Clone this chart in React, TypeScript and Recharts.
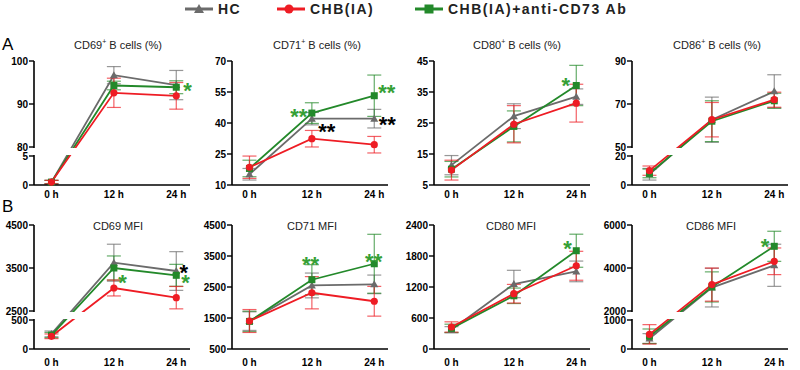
import React from "react";
import {
  ErrorBar,
  Line,
  LineChart,
  ReferenceArea,
  ReferenceDot,
  XAxis,
  YAxis,
} from "recharts";

const FONT = '"Liberation Sans", Arial, Helvetica, sans-serif';
const GRAY = "#6b6b6b";
const RED = "#ee1c24";
const GREEN = "#23892a";
const STAR_GREEN = "#35a035";

const timeLabels = ["0 h", "12 h", "24 h"];

// A: % positive B cells
const cd69PctTicks = [0, 5, 80, 90, 100];
const cd69PctHC = [0.5, 96.7, 94.4];
const cd69PctHCErr = [0.3, 2.0, 3.4];
const cd69PctCHB = [0.5, 92.6, 91.9];
const cd69PctCHBErr = [0.3, 3.4, 3.1];
const cd69PctAb = [0.5, 94.3, 93.9];
const cd69PctAbErr = [0.3, 1.0, 1.5];

const cd71PctTicks = [10, 25, 40, 55, 70];
const cd71PctHC = [15.2, 42.1, 42.1];
const cd71PctHCErr = [2.8, 3.0, 4.5];
const cd71PctCHB = [18.6, 32.4, 29.5];
const cd71PctCHBErr = [5.4, 4.0, 4.0];
const cd71PctAb = [18.0, 44.8, 53.2];
const cd71PctAbErr = [4.0, 5.0, 10.0];

const cd80PctTicks = [5, 15, 25, 35, 45];
const cd80PctHC = [11.4, 27.2, 33.5];
const cd80PctHCErr = [3.1, 4.0, 2.5];
const cd80PctCHB = [9.8, 24.6, 31.4];
const cd80PctCHBErr = [3.2, 6.0, 6.1];
const cd80PctAb = [10.1, 23.9, 37.1];
const cd80PctAbErr = [2.5, 5.0, 6.5];

const cd86PctTicks = [0, 20, 50, 70, 90];
const cd86PctHC = [7.4, 62.7, 75.9];
const cd86PctHCErr = [4.0, 10.5, 7.7];
const cd86PctCHB = [9.9, 62.7, 72.0];
const cd86PctCHBErr = [3.2, 8.0, 3.5];
const cd86PctAb = [8.0, 62.0, 71.5];
const cd86PctAbErr = [3.0, 9.5, 3.5];

// B: MFI
const cd69MfiTicks = [0, 500, 2500, 3500, 4500];
const cd69MfiHC = [260, 3623, 3430];
const cd69MfiHCErr = [50, 430, 450];
const cd69MfiCHB = [219, 3035, 2810];
const cd69MfiCHBErr = [40, 185, 260];
const cd69MfiAb = [240, 3500, 3330];
const cd69MfiAbErr = [45, 280, 255];

const cd71MfiTicks = [500, 1500, 2500, 3500, 4500];
const cd71MfiHC = [1400, 2550, 2585];
const cd71MfiHCErr = [300, 400, 300];
const cd71MfiCHB = [1403, 2315, 2040];
const cd71MfiCHBErr = [370, 520, 480];
const cd71MfiAb = [1390, 2735, 3250];
const cd71MfiAbErr = [330, 485, 950];

const cd80MfiTicks = [0, 600, 1200, 1800, 2400];
const cd80MfiHC = [373, 1258, 1502];
const cd80MfiHCErr = [60, 265, 200];
const cd80MfiCHB = [426, 1070, 1611];
const cd80MfiCHBErr = [100, 180, 280];
const cd80MfiAb = [400, 1030, 1902];
const cd80MfiAbErr = [80, 150, 320];

const cd86MfiTicks = [0, 1000, 2000, 4000, 6000];
const cd86MfiHC = [360, 3088, 4126];
const cd86MfiHCErr = [170, 900, 980];
const cd86MfiCHB = [505, 3228, 4312];
const cd86MfiCHBErr = [335, 770, 620];
const cd86MfiAb = [440, 3120, 5009];
const cd86MfiAbErr = [250, 700, 700];

// significance marks: [x position in time units, y value, text, color]
const cd69PctStars = [[2.18, 94.4, "*", STAR_GREEN]];
const cd71PctStars = [
  [0.79, 45.5, "**", STAR_GREEN],
  [1.24, 38.2, "**", "#000"],
  [2.2, 57.1, "**", STAR_GREEN],
  [2.21, 41.9, "**", "#000"],
];
const cd80PctStars = [[1.83, 38.8, "*", STAR_GREEN]];
const cd69MfiStars = [
  [2.12, 3523, "*", "#000"],
  [1.14, 3290, "*", STAR_GREEN],
  [2.15, 3290, "*", STAR_GREEN],
];
const cd71MfiStars = [
  [0.98, 3390, "**", STAR_GREEN],
  [1.99, 3500, "**", STAR_GREEN],
];
const cd80MfiStars = [[1.86, 2046, "*", STAR_GREEN]];
const cd86MfiStars = [[1.85, 5223, "*", STAR_GREEN]];

const PLOT_H = 124;
const LO_PX = 29;
const GAP_PX = 9;
const COL_X = [34, 232, 434, 632];
const ROW_Y = [61, 225];

type Brk = { loMax: number; hiMin: number; hiMax: number };

const sup = (s: string) => (
  <>
    {s}
    <sup style={{ fontSize: 7 }}>+</sup> B cells (%)
  </>
);

const panels = [
  { title: sup("CD69"), tx: 4, col: 0, row: 0, ticks: cd69PctTicks, brk: { loMax: 5, hiMin: 80, hiMax: 100 }, hc: cd69PctHC, hcErr: cd69PctHCErr, chb: cd69PctCHB, chbErr: cd69PctCHBErr, ab: cd69PctAb, abErr: cd69PctAbErr, stars: cd69PctStars },
  { title: sup("CD71"), tx: 5, col: 1, row: 0, ticks: cd71PctTicks, hc: cd71PctHC, hcErr: cd71PctHCErr, chb: cd71PctCHB, chbErr: cd71PctCHBErr, ab: cd71PctAb, abErr: cd71PctAbErr, stars: cd71PctStars },
  { title: sup("CD80"), tx: 3, col: 2, row: 0, ticks: cd80PctTicks, hc: cd80PctHC, hcErr: cd80PctHCErr, chb: cd80PctCHB, chbErr: cd80PctCHBErr, ab: cd80PctAb, abErr: cd80PctAbErr, stars: cd80PctStars },
  { title: sup("CD86"), tx: 5, col: 3, row: 0, ticks: cd86PctTicks, brk: { loMax: 20, hiMin: 50, hiMax: 90 }, hc: cd86PctHC, hcErr: cd86PctHCErr, chb: cd86PctCHB, chbErr: cd86PctCHBErr, ab: cd86PctAb, abErr: cd86PctAbErr, stars: [] },
  { title: "CD69 MFI", tx: 4, col: 0, row: 1, ticks: cd69MfiTicks, brk: { loMax: 500, hiMin: 2500, hiMax: 4500 }, hc: cd69MfiHC, hcErr: cd69MfiHCErr, chb: cd69MfiCHB, chbErr: cd69MfiCHBErr, ab: cd69MfiAb, abErr: cd69MfiAbErr, stars: cd69MfiStars },
  { title: "CD71 MFI", tx: 0, col: 1, row: 1, ticks: cd71MfiTicks, hc: cd71MfiHC, hcErr: cd71MfiHCErr, chb: cd71MfiCHB, chbErr: cd71MfiCHBErr, ab: cd71MfiAb, abErr: cd71MfiAbErr, stars: cd71MfiStars },
  { title: "CD80 MFI", tx: -3, col: 2, row: 1, ticks: cd80MfiTicks, hc: cd80MfiHC, hcErr: cd80MfiHCErr, chb: cd80MfiCHB, chbErr: cd80MfiCHBErr, ab: cd80MfiAb, abErr: cd80MfiAbErr, stars: cd80MfiStars },
  { title: "CD86 MFI", tx: -1, col: 3, row: 1, ticks: cd86MfiTicks, brk: { loMax: 1000, hiMin: 2000, hiMax: 6000 }, hc: cd86MfiHC, hcErr: cd86MfiHCErr, chb: cd86MfiCHB, chbErr: cd86MfiCHBErr, ab: cd86MfiAb, abErr: cd86MfiAbErr, stars: cd86MfiStars },
];

function makeScale(brk?: Brk) {
  if (!brk) return (v: number) => v;
  const { loMax, hiMin, hiMax } = brk;
  return (v: number) =>
    v <= loMax
      ? (v / loMax) * LO_PX
      : v >= hiMin
      ? LO_PX + GAP_PX + ((v - hiMin) / (hiMax - hiMin)) * (PLOT_H - LO_PX - GAP_PX)
      : LO_PX + ((v - loMax) / (hiMin - loMax)) * GAP_PX;
}

const series = [
  { key: "hc", color: GRAY, shape: "tri" },
  { key: "ab", color: GREEN, shape: "sq" },
  { key: "chb", color: RED, shape: "circ" },
];

function makeDot(shape: string, color: string) {
  return (props: any) => {
    const { cx, cy, index } = props;
    if (cx == null || cy == null) return <g key={index} />;
    if (shape === "tri")
      return (
        <polygon key={index} points={`${cx},${cy - 4} ${cx - 4},${cy + 3} ${cx + 4},${cy + 3}`} fill={color} />
      );
    if (shape === "sq")
      return <rect key={index} x={cx - 3.5} y={cy - 3.5} width={7} height={7} fill={color} />;
    return <circle key={index} cx={cx} cy={cy} r={3.6} fill={color} />;
  };
}

function Panel({ p }: { p: any }) {
  const t = makeScale(p.brk);
  const dispTicks = p.ticks.map(t);
  const domain = p.brk ? [0, PLOT_H] : [p.ticks[0], p.ticks[p.ticks.length - 1]];
  const err = (v: number, e: number) => [t(v) - t(v - e), t(v + e) - t(v)];
  const data = timeLabels.map((_, i) => ({
    x: i,
    hc: t(p.hc[i]),
    hcErr: err(p.hc[i], p.hcErr[i]),
    chb: t(p.chb[i]),
    chbErr: err(p.chb[i], p.chbErr[i]),
    ab: t(p.ab[i]),
    abErr: err(p.ab[i], p.abErr[i]),
  }));
  const left = COL_X[p.col];
  const top = ROW_Y[p.row];
  return (
    <>
      <div
        style={{
          position: "absolute",
          left: left + 80 + p.tx - 100,
          top: p.row === 0 ? 35 : 219,
          width: 200,
          textAlign: "center",
          fontSize: 11,
          lineHeight: "14px",
          color: "#222",
        }}
      >
        {p.title}
      </div>
      <div style={{ position: "absolute", left: left - 40, top: top - 6 }}>
        <LineChart width={204} height={154} data={data} margin={{ top: 6, right: 8, bottom: 0, left: 0 }}>
          <XAxis
            type="number"
            dataKey="x"
            domain={[-0.28, 2.22]}
            ticks={[0, 1, 2]}
            interval={0}
            tickFormatter={(i: number) => timeLabels[i]}
            tickLine={false}
            tickSize={0}
            tickMargin={p.row === 0 ? 6 : 10}
            height={24}
            axisLine={{ stroke: "#000", strokeWidth: 1.6 }}
            tick={{ fontSize: 10, fontWeight: 700, fill: "#000", fontFamily: FONT }}
          />
          <YAxis
            type="number"
            domain={domain}
            ticks={dispTicks}
            interval={0}
            width={40}
            tickSize={5}
            tickMargin={1}
            tickFormatter={(d: number) => {
              const i = dispTicks.findIndex((x: number) => Math.abs(x - d) < 1e-6);
              return i >= 0 ? String(p.ticks[i]) : "";
            }}
            axisLine={{ stroke: "#000", strokeWidth: 1.6 }}
            tickLine={{ stroke: "#000", strokeWidth: 1.4 }}
            tick={{ fontSize: 10, fontWeight: 700, fill: "#000", fontFamily: FONT }}
          />
          {series.map((s) => (
            <Line
              key={s.key}
              type="linear"
              dataKey={s.key}
              stroke={s.color}
              strokeWidth={1.8}
              dot={makeDot(s.shape, s.color)}
              activeDot={false}
              isAnimationActive={false}
            >
              <ErrorBar
                dataKey={s.key + "Err"}
                direction="y"
                width={7}
                stroke={s.color}
                strokeOpacity={0.7}
                strokeWidth={1.2}
                isAnimationActive={false}
              />
            </Line>
          ))}
          {p.brk && (
            <ReferenceArea
              x1={-0.34}
              x2={2.22}
              y1={LO_PX + 1}
              y2={LO_PX + GAP_PX - 1}
              fill="#fff"
              fillOpacity={1}
              stroke="none"
              ifOverflow="visible"
              zIndex={1500}
            />
          )}
          {p.stars.map((s: any, i: number) => (
            <ReferenceDot
              key={i}
              x={s[0]}
              y={t(s[1])}
              r={0}
              zIndex={1600}
              shape={(d: any) => (
                <text
                  x={d.cx}
                  y={d.cy + 0.57 * 22}
                  textAnchor="middle"
                  fontSize={22}
                  fontWeight={700}
                  fill={s[3]}
                  fontFamily={FONT}
                >
                  {s[2]}
                </text>
              )}
            />
          ))}
        </LineChart>
      </div>
    </>
  );
}

function LegendItem({ x, label, color, shape }: { x: number; label: string; color: string; shape: string }) {
  return (
    <div style={{ position: "absolute", left: x, top: 0, display: "flex", alignItems: "center", height: 17 }}>
      <svg width={30} height={12} style={{ marginRight: 4 }}>
        <line x1={1} y1={6} x2={29} y2={6} stroke={color} strokeWidth={3} />
        {shape === "tri" && <polygon points="15,1 10,10 20,10" fill={color} />}
        {shape === "sq" && <rect x={10.5} y={1.5} width={9} height={9} fill={color} />}
        {shape === "circ" && <circle cx={13} cy={6} r={4.5} fill={color} />}
      </svg>
      <span style={{ fontSize: 14, fontWeight: 700, letterSpacing: 1.5, color: "#222" }}>{label}</span>
    </div>
  );
}

export default function App() {
  return (
    <div
      style={{
        position: "absolute",
        left: 0,
        top: 0,
        width: 800,
        height: 370,
        background: "#fff",
        fontFamily: FONT,
        overflow: "hidden",
      }}
    >
      <LegendItem x={184} label="HC" color={GRAY} shape="tri" />
      <LegendItem x={276} label="CHB(IA)" color={RED} shape="circ" />
      <LegendItem x={414} label="CHB(IA)+anti-CD73 Ab" color={GREEN} shape="sq" />
      <div style={{ position: "absolute", left: 2, top: 35, fontSize: 17 }}>A</div>
      <div style={{ position: "absolute", left: 2, top: 197, fontSize: 17 }}>B</div>
      {panels.map((p, i) => (
        <Panel key={i} p={p} />
      ))}
    </div>
  );
}
